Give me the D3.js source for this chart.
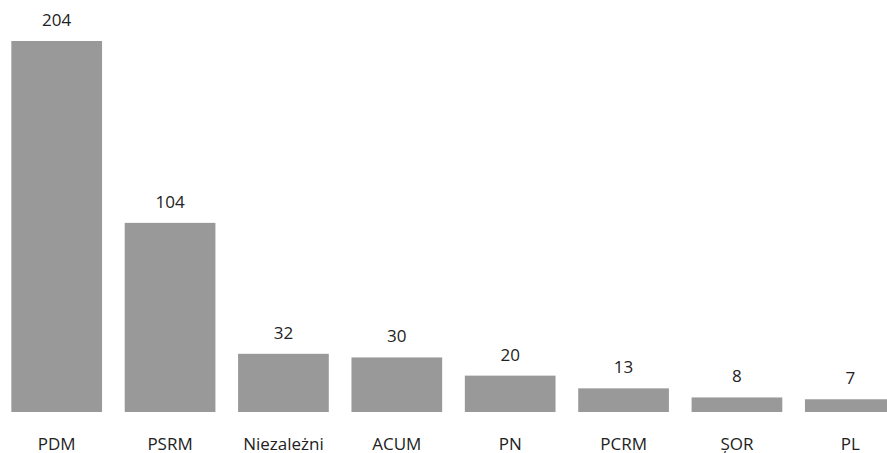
<!DOCTYPE html>
<html>
<head>
<meta charset="utf-8">
<script src="https://cdn.jsdelivr.net/npm/d3@7"></script>
<style>
  body { margin: 0; background: #fff; overflow: hidden; }
  text { font-family: 'Open Sans', 'Noto Sans', sans-serif; fill: #222; }
</style>
</head>
<body>
<div id="chart"></div>
<script>
let parties = ['PDM', 'PSRM', 'Niezależni', 'ACUM', 'PN', 'PCRM', 'ȘOR', 'PL']
let seats = [204, 104, 32, 30, 20, 13, 8, 7]

let width = 887
let height = 453
let baseline = 412
let plotTop = 41

let x = d3.scaleBand()
  .domain(parties)
  .range([0, 907])
  .paddingInner(0.2)
  .paddingOuter(0.1)

let y = d3.scaleLinear()
  .domain([0, d3.max(seats)])
  .range([baseline, plotTop])

let svg = d3.select('#chart')
  .append('svg')
  .attr('width', width)
  .attr('height', height)

let data = parties.map((p, i) => ({ name: p, value: seats[i] }))

svg.selectAll('.bar')
  .data(data)
  .enter()
  .append('rect')
  .attr('class', 'bar')
  .attr('x', d => x(d.name))
  .attr('y', d => y(d.value))
  .attr('width', x.bandwidth())
  .attr('height', d => baseline - y(d.value))
  .attr('fill', '#999999')

svg.selectAll('.val')
  .data(data)
  .enter()
  .append('text')
  .attr('class', 'val')
  .attr('x', d => x(d.name) + x.bandwidth() / 2)
  .attr('y', d => y(d.value) - 15)
  .attr('text-anchor', 'middle')
  .style('font-size', '17px')
  .text(d => d.value)

/* category axis, no line or ticks */
let xAxis = d3.axisBottom(x).tickSize(0).tickPadding(0)
let g = svg.append('g')
  .attr('transform', `translate(0, ${baseline})`)
  .call(xAxis)
g.select('.domain').remove()
g.selectAll('text')
  .attr('dy', null)
  .attr('y', 38)
  .style('font-size', '17px')
  .style('font-family', "'Open Sans', 'Noto Sans', sans-serif")
  .attr('fill', '#222')
</script>
</body>
</html>
